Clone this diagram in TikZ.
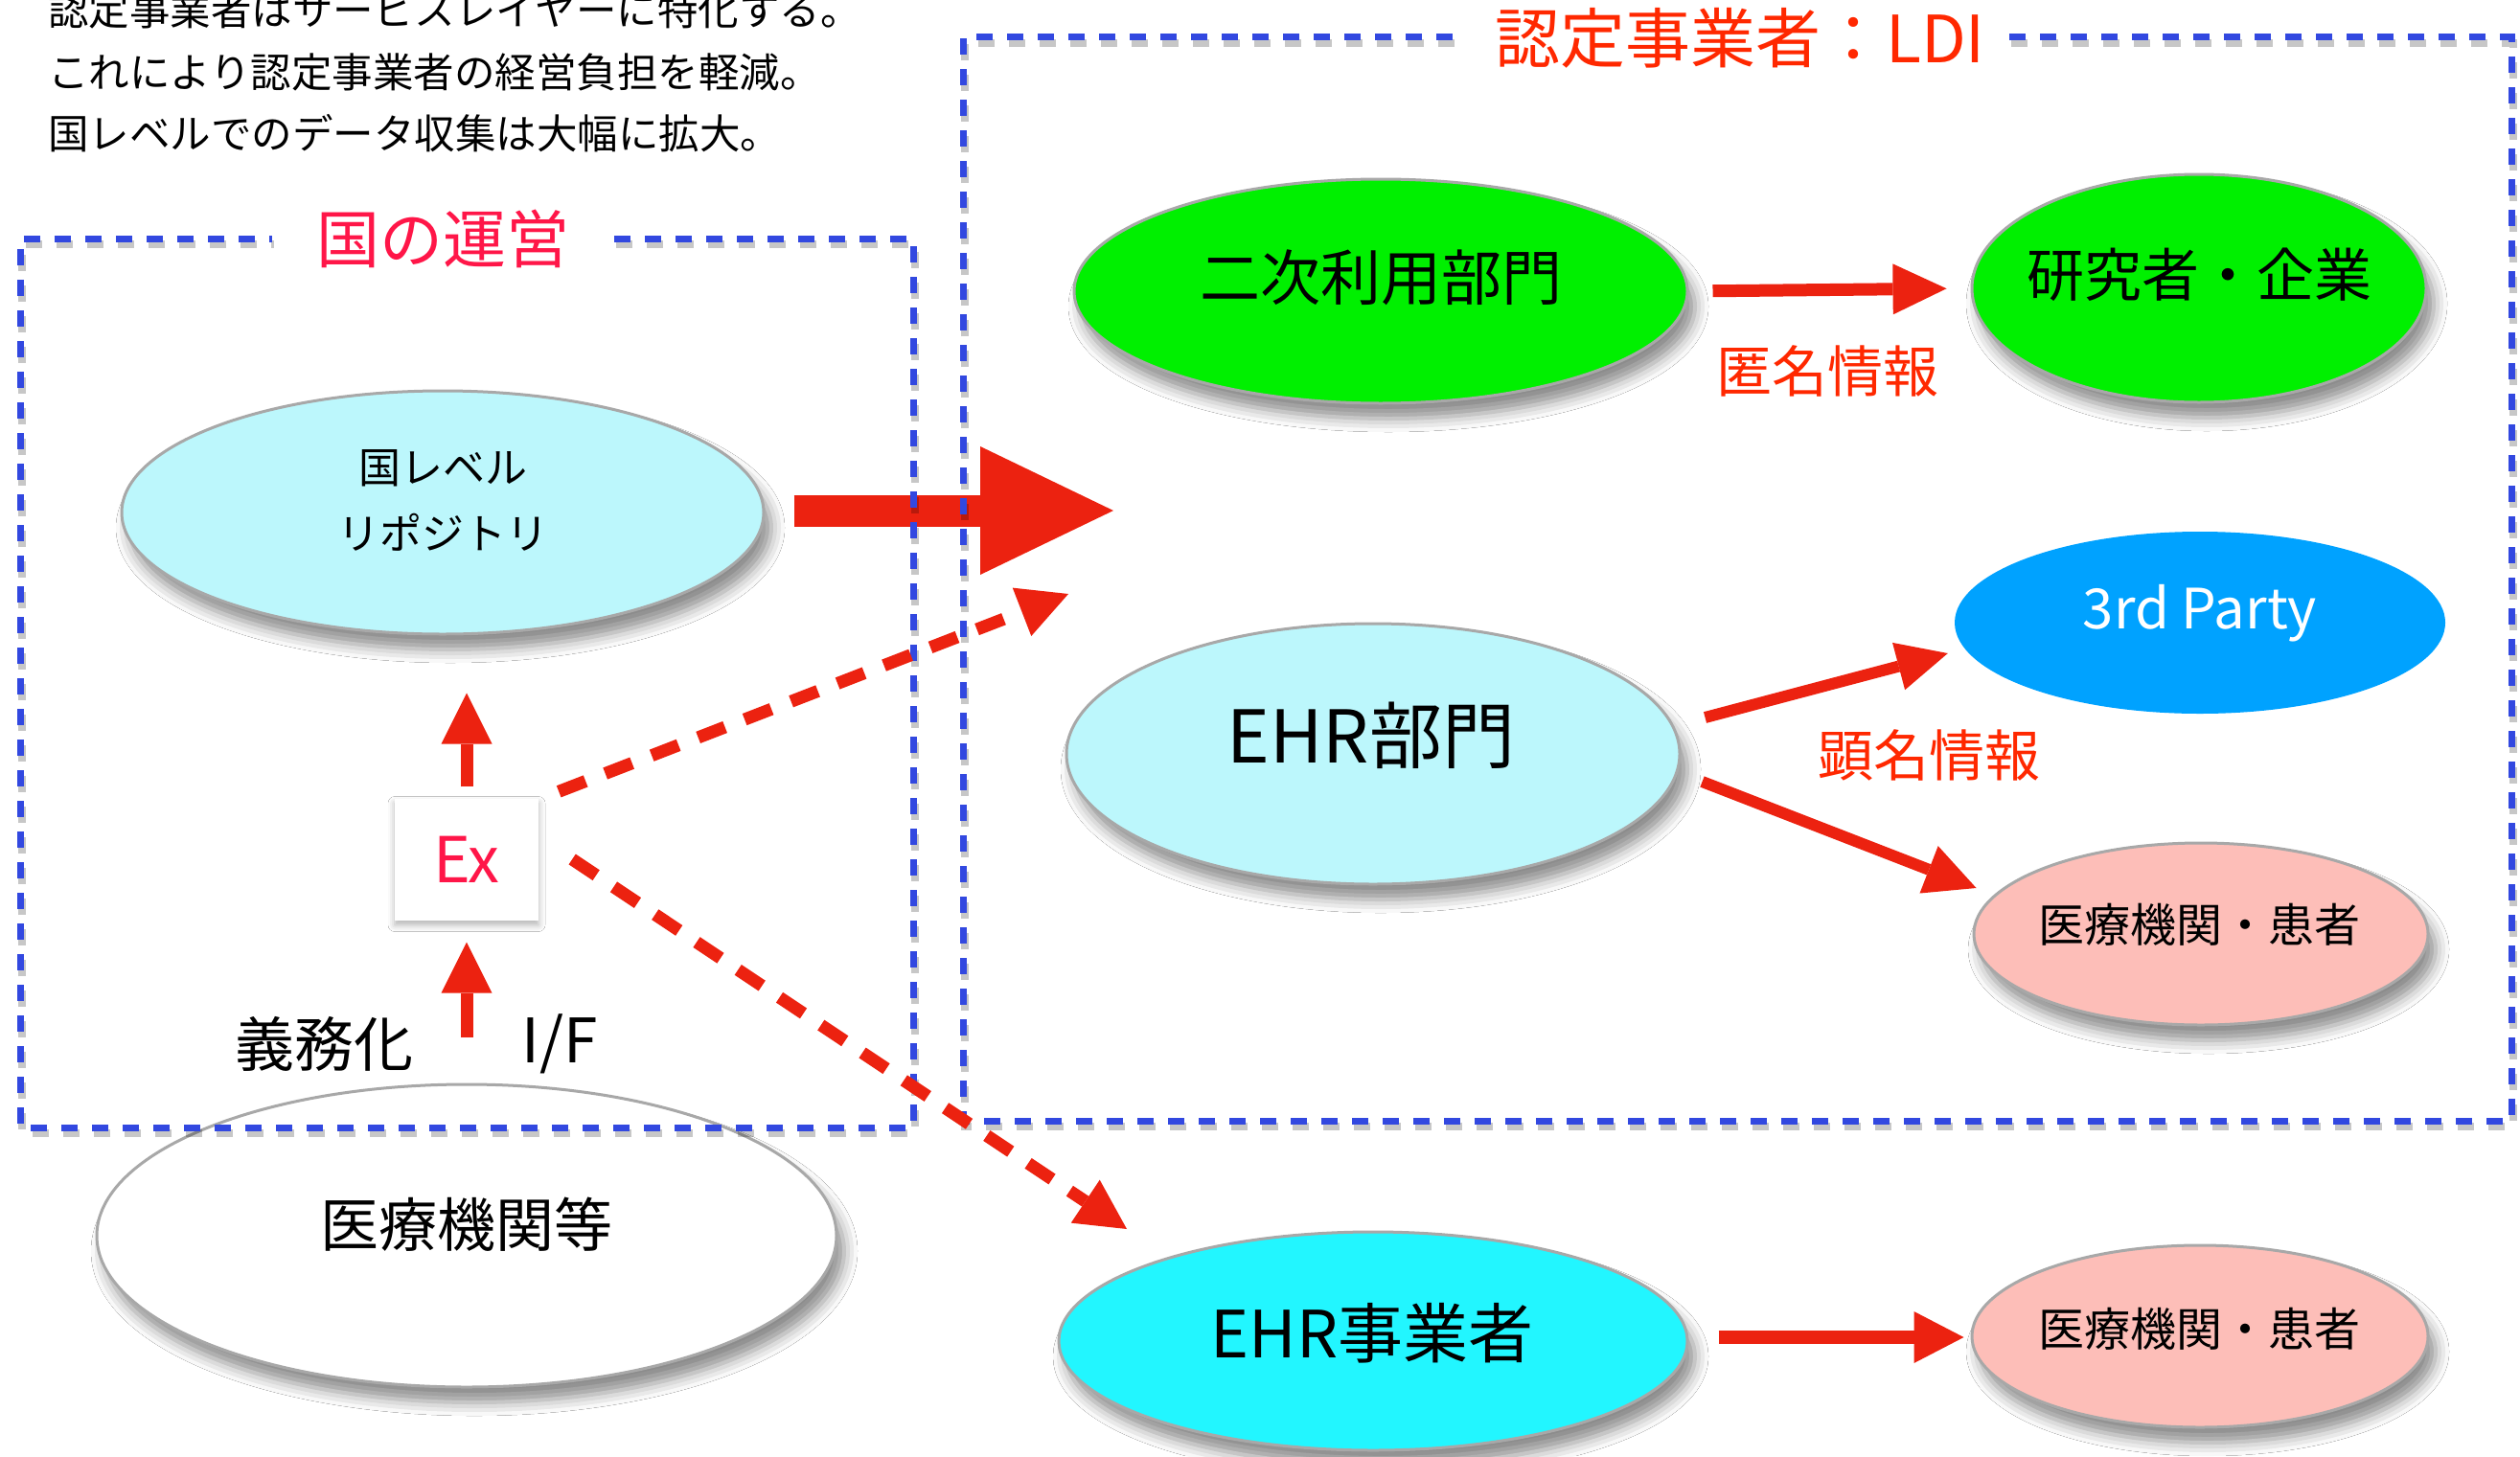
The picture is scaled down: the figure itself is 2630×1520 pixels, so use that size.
\documentclass[tikz,border=0pt]{standalone}
\usepackage{fontspec}
\setmainfont{Noto Sans CJK JP}
\usetikzlibrary{arrows.meta,shadows.blur,calc,shapes.geometric}
\definecolor{boxblue}{RGB}{50,72,224}
\definecolor{arrred}{RGB}{236,34,16}
\definecolor{pinkred}{RGB}{255,22,72}
\definecolor{titlered}{RGB}{255,40,0}
\definecolor{lcyan}{RGB}{188,247,252}
\definecolor{lgreen}{RGB}{0,240,0}
\definecolor{pblue}{RGB}{0,162,255}
\definecolor{lpink}{RGB}{253,190,184}
\definecolor{cyanb}{RGB}{34,246,255}
\definecolor{rimgray}{RGB}{168,168,168}
\tikzset{
  ell/.style={ellipse, draw=rimgray, line width=3pt, inner sep=0pt,
     blur shadow={shadow xshift=8pt, shadow yshift=-16pt, shadow blur radius=14pt, shadow opacity=45}},
  txt/.style={inner sep=0pt, text=black},
  fs/.style={font=\fontsize{#1}{#1}\selectfont},
  lbox/.style={boxblue, line width=7pt, dash pattern=on 17pt off 15pt},
  lboxshadow/.style={black, opacity=0.22, line width=8pt, dash pattern=on 17pt off 15pt},
  fatarrow/.style n args={3}{arrred, line width=#1,
     arrows={-Triangle[length=#2,width=#3,line width=0pt]}},
  dasharrow/.style={arrred, line width=13pt, dash pattern=on 30pt off 22pt,
     arrows={-Triangle[length=52pt,width=54pt,line width=0pt]}}
}
\begin{document}
\begin{tikzpicture}[x=1pt,y=-1pt]
\useasboundingbox[fill=white] (0,0) rectangle (2630,1520);
% notes
\node[txt,fs=42.5,anchor=base west] (note1) at (50,27) {認定事業者はサービスレイヤーに特化する。};
\node[txt,fs=42.5,anchor=base west] (note2) at (50,91) {これにより認定事業者の経営負担を軽減。};
\node[txt,fs=42.5,anchor=base west] (note3) at (50,155) {国レベルでのデータ収集は大幅に拡大。};
% ellipses
\node[ell, fill=lcyan, minimum width=670pt, minimum height=254pt] (repo) at (462,535) {};
\node[txt, font=\fontsize{44}{69}\selectfont, align=center] (repoT) at (462,522) {国レベル\\リポジトリ};
\node[ell, fill=white, minimum width=772pt, minimum height=316pt] (med) at (487,1290) {};
\node[txt,fs=61] (medT) at (487,1278) {医療機関等};
\node[ell, fill=lgreen, minimum width=640pt, minimum height=234pt] (ssec) at (1441,304) {};
\node[txt,fs=63] (ssecT) at (1441,290) {二次利用部門};
\node[ell, fill=lgreen, minimum width=474pt, minimum height=238pt] (res) at (2295,301) {};
\node[txt,fs=60] (resT) at (2295,287) {研究者・企業};
\node[ell, fill=lcyan, minimum width=640pt, minimum height=272pt] (ehr) at (1433,787) {};
\node[txt,fs=76] (ehrT) at (1431,768) {EHR部門};
\node[ellipse, fill=pblue, minimum width=512pt, minimum height=190pt, inner sep=0pt] (third) at (2296,650) {};
\node[txt,fs=58,text=white] (thirdT) at (2296,640) {3rd Party};
\node[ell, fill=lpink, minimum width=474pt, minimum height=190pt] (pat1) at (2297,975) {};
\node[txt,fs=48] (pat1T) at (2295,965) {医療機関・患者};
\node[ell, fill=cyanb, minimum width=656pt, minimum height=228pt] (ehrco) at (1433,1400) {};
\node[txt,fs=68] (ehrcoT) at (1432,1392) {EHR事業者};
\node[ell, fill=lpink, minimum width=476pt, minimum height=190pt] (pat2) at (2296,1395) {};
\node[txt,fs=48] (pat2T) at (2295,1387) {医療機関・患者};
% Ex box
\node[fill=white, minimum width=150pt, minimum height=127pt, inner sep=0pt, text=pinkred, fs=66,
  blur shadow={shadow xshift=0pt, shadow yshift=-5pt, shadow blur radius=7pt, shadow opacity=30}] (ex) at (487,897) {Ex};
% big arrow
\coordinate (bigTip) at (1162,533);
\draw[fatarrow={33pt}{139pt}{134pt}] ($(repo.east)+(30,-2)$) -- (bigTip);
% boxes
\draw[lboxshadow, xshift=2pt, yshift=-6pt] (641,249) -- (953,249) -- (953,1177) -- (21,1177) -- (21,249) -- (284,249);
\draw[lboxshadow, xshift=2pt, yshift=-6pt] (2097,39) -- (2621,39) -- (2621,1170) -- (1005,1170) -- (1005,39) -- (1518,39);
\draw[lbox] (641,249) -- (953,249) -- (953,1177) -- (21,1177) -- (21,249) -- (284,249);
\draw[lbox] (2097,39) -- (2621,39) -- (2621,1170) -- (1005,1170) -- (1005,39) -- (1518,39);
\node[txt,fs=66,text=pinkred] (govT) at (462,249) {国の運営};
\node[txt,fs=68,text=titlered] (ldiT) at (1816,40) {認定事業者：LDI};
% labels
\node[txt,fs=62] (duty) at (338,1090) {義務化};
\node[txt,fs=64] (iface) at (584,1090) {I/F};
\node[txt,fs=58,text=titlered] (anon) at (1907,387) {匿名情報};
\node[txt,fs=58,text=titlered] (named) at (2013,788) {顕名情報};
% arrows
\draw[fatarrow={13pt}{53pt}{53pt}, shorten <=12pt, shorten >=60pt] (ex.north) -- (ex.north |- repo.south);
\draw[fatarrow={13pt}{53pt}{53pt}, shorten <=48pt, shorten >=23pt] (med.north) -- (ex.south);
\draw[fatarrow={13pt}{56pt}{53pt}, shorten <=25pt, shorten >=25pt] (ssec.east) -- (res.west);
\draw[fatarrow={12pt}{53pt}{51pt}] ($(ehr.east)+(25,-38)$) -- ($(third.west)+(-7,32)$);
\draw[fatarrow={12pt}{53pt}{53pt}] ($(ehr.east)+(22,29)$) -- ($(pat1.west)+(4,-48)$);
\draw[fatarrow={14pt}{52pt}{54pt}] ($(ehrco.east)+(31,-4)$) -- ($(pat2.west)+(-7,1)$);
\coordinate (ldiIn) at (1115,620);
\coordinate (ehrcoIn) at (1176,1283);
\draw[dasharrow] ($(ex.north east)+(21,-7)$) -- (ldiIn);
\draw[dasharrow] ($(ex.east)+(35,0)$) -- (ehrcoIn);
\end{tikzpicture}
\end{document}
